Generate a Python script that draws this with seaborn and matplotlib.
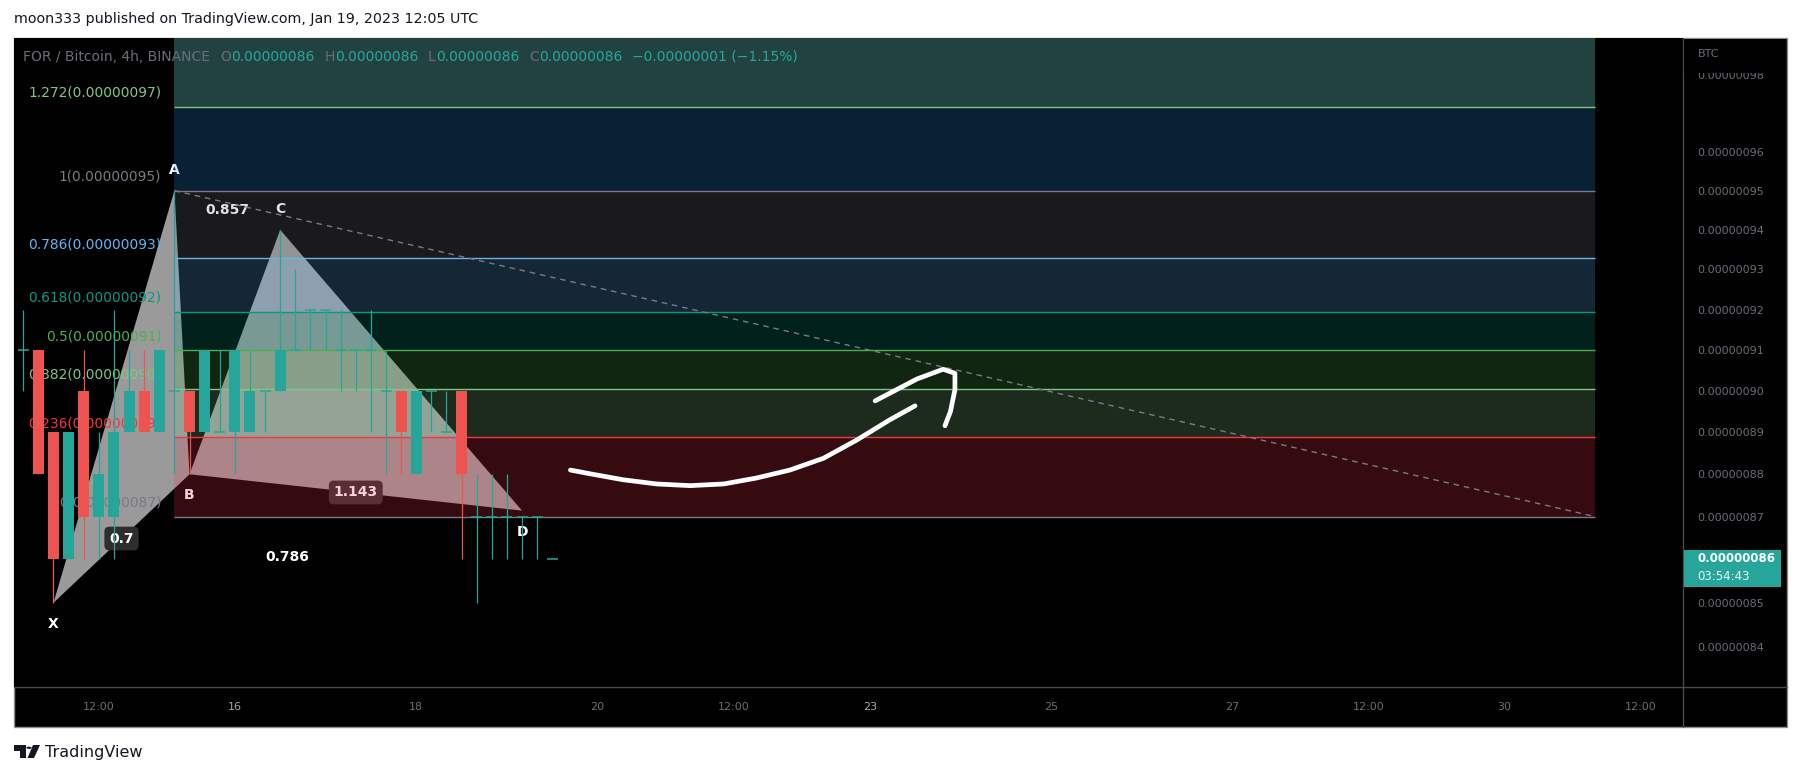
import numpy as np
import pandas as pd
import matplotlib.pyplot as plt
import matplotlib.dates as mdates
from matplotlib.patches import Rectangle, Polygon, Circle
from matplotlib.lines import Line2D
from matplotlib.ticker import FixedLocator, FixedFormatter, NullLocator, NullFormatter
import seaborn as sns

# FOR/BTC 4h candles, prices in satoshi (1e-8 BTC)
candle_start = "2023-01-13 16:00"
opens = [91, 91, 89, 86, 90, 87, 87, 89, 90, 89, 90, 90, 89, 89, 89, 89, 90, 90,
         91, 92, 92, 91, 91, 91, 90, 90, 88, 90, 89, 90, 87, 87, 87, 87, 87, 86]
highs = [92, 91, 89, 89, 91, 89, 92, 91, 91, 91, 95, 90, 91, 91, 91, 91, 90, 94,
         93, 92, 92, 92, 91, 92, 91, 90, 90, 90, 90, 90, 88, 88, 88, 87, 87, 86]
lows = [90, 88, 85, 86, 86, 86, 86, 89, 89, 89, 88, 88, 89, 89, 88, 89, 89, 90,
        91, 91, 91, 90, 90, 89, 88, 88, 88, 89, 89, 86, 85, 86, 86, 86, 86, 86]
closes = [91, 88, 86, 89, 87, 88, 89, 90, 89, 91, 90, 89, 91, 89, 91, 90, 90, 91,
          91, 92, 92, 91, 91, 91, 90, 89, 90, 90, 89, 88, 87, 87, 87, 87, 87, 86]
countdown = "03:54:43"

# XABCD pattern
pattern_names = ["X", "A", "B", "C", "D"]
pattern_times = ["2023-01-14 00:00", "2023-01-15 08:00", "2023-01-15 12:00",
                 "2023-01-16 12:00", "2023-01-19 04:00"]
pattern_prices = [85, 95, 88, 94, 87.14]
ratio_texts = ["0.7", "0.857", "1.143", "0.786"]
ratio_legs = [(0, 2), (1, 3), (2, 4), (0, 4)]
ratio_boxed = [True, False, True, False]

# fib retracement from A to the end of the month
fib_times = ["2023-01-15 08:00", "2023-01-31 00:00"]
fib_prices = [95, 87]
fib_levels = [0, 0.236, 0.382, 0.5, 0.618, 0.786, 1, 1.272, 1.618]
fib_colors = ["#787b86", "#f23645", "#81c784", "#4caf50", "#089981",
              "#64b5f6", "#787b86", "#81c784", "#7df0f0"]
band_colors = ["#f23645", "#81c784", "#4caf50", "#089981", "#64b5f6",
               "#787b86", "#2b9bff", "#7df0f0"]
band_alpha = [0.22, 0.22, 0.22, 0.22, 0.22, 0.22, 0.21, 0.28]

# hand drawn arrow (day of January 2023, price)
arrow_days = [19.70, 19.92, 20.28, 20.65, 21.02, 21.39, 21.75, 22.12, 22.49, 22.86, 23.22, 23.50]
arrow_prices = [88.10, 88.01, 87.87, 87.77, 87.73, 87.77, 87.91, 88.10, 88.38, 88.82, 89.30, 89.64]
head_days = [23.06, 23.52, 23.81, 23.94, 23.94, 23.89, 23.83]
head_prices = [89.76, 90.29, 90.53, 90.43, 90.03, 89.50, 89.16]

# axes
price_ticks = [84, 85, 87, 88, 89, 90, 91, 92, 93, 94, 95, 96, 98]
tick_times = ["2023-01-14 12:00", "2023-01-16 00:00", "2023-01-18 00:00", "2023-01-20 00:00",
              "2023-01-21 12:00", "2023-01-23 00:00", "2023-01-25 00:00", "2023-01-27 00:00",
              "2023-01-28 12:00", "2023-01-30 00:00", "2023-01-31 12:00"]
tick_labels = ["12:00", "16", "18", "20", "12:00", "23", "25", "27", "12:00", "30", "12:00"]
tick_bright = ["16", "23"]
view_times = ["2023-01-13 13:33", "2023-01-31 23:14"]
view_prices = [83.09, 98.995]

UP = "#26a69a"
DOWN = "#ef5350"
DIM = "#6a6d78"


def run():
    sns.set_style("dark", {"axes.facecolor": "black", "figure.facecolor": "white"})
    plt.rcParams["font.family"] = ["DejaVu Sans"]

    W, H = 1801, 776

    def fx(px):
        return px / W

    def fy(py):
        return 1 - py / H

    fig = plt.figure(figsize=(W / 100, H / 100), dpi=100)

    # chart panel background + separators
    fig.add_artist(Rectangle((fx(14), fy(727)), fx(1787) - fx(14), fy(38) - fy(727),
                             transform=fig.transFigure, fc="black", ec="#8f8f8f",
                             lw=1, zorder=-5))
    fig.add_artist(Line2D([fx(14), fx(1787)], [fy(687), fy(687)],
                          transform=fig.transFigure, color="#4a4a4a", lw=1, zorder=3))
    fig.add_artist(Line2D([fx(1683), fx(1683)], [fy(38), fy(727)],
                          transform=fig.transFigure, color="#4a4a4a", lw=1, zorder=3))

    ax = fig.add_axes([fx(14), fy(687), fx(1683) - fx(14), fy(38) - fy(687)])
    ax.set_facecolor("black")
    ax.set_yscale("log")

    # candles
    times = pd.date_range(candle_start, periods=len(opens), freq="4h")
    x = mdates.date2num(times)
    o, h, l, c = (np.array(v, dtype=float) for v in (opens, highs, lows, closes))
    col = np.where(c >= o, UP, DOWN)
    body_w = 0.121
    ax.vlines(x, l, h, colors=col, lw=0.9, zorder=5)
    ax.bar(x, np.abs(c - o), bottom=np.minimum(o, c), width=body_w, color=col, lw=0, zorder=6)
    flat = c == o
    ax.hlines(o[flat], x[flat] - body_w / 2, x[flat] + body_w / 2, colors=col[flat],
              lw=1.1, zorder=6)

    # XABCD pattern (under the fib bands, so it gets tinted)
    ptx = mdates.date2num(pd.to_datetime(pattern_times))
    pp = np.array(pattern_prices, dtype=float)
    ax.fill(ptx[:3], pp[:3], color="#9a9a9a", lw=0, zorder=1)
    ax.fill(ptx[2:], pp[2:], color="#9a9a9a", lw=0, zorder=1)
    for i, name in enumerate(pattern_names):
        side = 1 if i % 2 else -1
        ax.annotate(name, xy=(ptx[i], pp[i]), xytext=(0, side * 21), textcoords="offset pixels",
                    ha="center", va="center", color="white", fontsize=10,
                    fontweight="bold", zorder=1.5, annotation_clip=False)
    for txt, (i, j), boxed in zip(ratio_texts, ratio_legs, ratio_boxed):
        bbox = dict(boxstyle="round,pad=0.35", fc="#2e2e2e", ec="none") if boxed else None
        ax.text((ptx[i] + ptx[j]) / 2, np.sqrt(pp[i] * pp[j]), txt, color="white",
                fontsize=10, fontweight="bold", ha="center", va="center",
                bbox=bbox, zorder=1.5)

    # fib retracement
    f0, f1 = mdates.date2num(pd.to_datetime(fib_times))
    lvl_prices = [fib_prices[1] + lv * (fib_prices[0] - fib_prices[1]) for lv in fib_levels]
    for k in range(len(fib_levels) - 1):
        ax.fill_between([f0, f1], lvl_prices[k], lvl_prices[k + 1], color=band_colors[k],
                        alpha=band_alpha[k], lw=0, zorder=2)
    for lv, p, clr in zip(fib_levels, lvl_prices, fib_colors):
        if p > view_prices[1]:
            continue
        ax.hlines(p, f0, f1, colors=clr, lw=1, zorder=3)
        ax.annotate(f"{lv:g}({p * 1e-8:.8f})", xy=(f0, p), xytext=(-13, 14),
                    textcoords="offset pixels", ha="right", va="center", color=clr,
                    fontsize=9.9, zorder=3.5, annotation_clip=False)
    ax.plot([f0, f1], fib_prices, color="#787b86", lw=1, ls=(0, (4, 3.5)), zorder=4)

    # brush arrow
    base = pd.Timestamp("2023-01-01")
    ax_days = mdates.date2num(base + pd.to_timedelta(np.array(arrow_days) - 1, unit="D"))
    hd_days = mdates.date2num(base + pd.to_timedelta(np.array(head_days) - 1, unit="D"))
    sns.lineplot(x=ax_days, y=arrow_prices, sort=False, estimator=None, color="white",
                 lw=3.4, solid_capstyle="round", solid_joinstyle="round", ax=ax, zorder=8)
    sns.lineplot(x=hd_days, y=head_prices, sort=False, estimator=None, color="white",
                 lw=3.4, solid_capstyle="round", solid_joinstyle="round", ax=ax, zorder=8)

    # scales
    ax.set_xlim(mdates.date2num(pd.to_datetime(view_times)))
    ax.set_ylim(view_prices)
    ax.set_xlabel("")
    ax.set_ylabel("")
    ax.grid(False)
    for s in ax.spines.values():
        s.set_visible(False)
    ax.yaxis.tick_right()
    ax.yaxis.set_major_locator(FixedLocator(price_ticks))
    ax.yaxis.set_major_formatter(FixedFormatter([f"{p * 1e-8:.8f}" for p in price_ticks]))
    ax.yaxis.set_minor_locator(NullLocator())
    ax.yaxis.set_minor_formatter(NullFormatter())
    ax.set_xticks(mdates.date2num(pd.to_datetime(tick_times)))
    ax.set_xticklabels(tick_labels)
    ax.tick_params(axis="y", length=0, pad=10, labelsize=8, labelcolor=DIM)
    ax.tick_params(axis="x", length=0, pad=10.5, labelsize=8, labelcolor=DIM)
    for lab in ax.get_xticklabels():
        if lab.get_text() in tick_bright:
            lab.set_color("#a3a6af")

    # currency tag, covers the top tick
    fig.add_artist(Rectangle((fx(1684), fy(73)), fx(1786) - fx(1684), fy(39) - fy(73),
                             transform=fig.transFigure, fc="black", ec="none", zorder=4))
    fig.text(fx(1698), fy(54), "BTC", fontsize=8, color=DIM, va="center", zorder=5)

    # last price tag
    y_last = ax.transData.transform((x[-1], closes[-1]))[1]
    fig.add_artist(Rectangle((fx(1684), (y_last - 28) / H), fx(1781) - fx(1684), 37 / H,
                             transform=fig.transFigure, fc=UP, ec="none", zorder=5))
    fig.text(fx(1697), (y_last + 0.5) / H, f"{closes[-1] * 1e-8:.8f}", fontsize=8.5,
             color="white", fontweight="bold", va="center", zorder=6)
    fig.text(fx(1697), (y_last - 17) / H, countdown, fontsize=8.5, color="#e8f5f3",
             va="center", zorder=6)

    # legend row
    chg = closes[-1] - closes[-2]
    pieces = [("FOR / Bitcoin, 4h, BINANCE", DIM, 0)]
    for letter, val in zip("OHLC", (opens[-1], highs[-1], lows[-1], closes[-1])):
        pieces += [(letter, DIM, 10), (f"{val * 1e-8:.8f}", UP, 0)]
    pieces.append((f"{chg * 1e-8:.8f} ({chg / closes[-2] * 100:.2f}%)".replace("-", "\u2212"), UP, 10))
    t = None
    for s, clr, gap in pieces:
        if t is None:
            t = ax.annotate(s, xy=(fx(23), fy(57)), xycoords="figure fraction", va="center",
                            color=clr, fontsize=10, zorder=9, annotation_clip=False)
        else:
            t = ax.annotate(s, xy=(1, 0), xycoords=t, xytext=(gap, 0),
                            textcoords="offset pixels", va="bottom", color=clr,
                            fontsize=10, zorder=9, annotation_clip=False)

    # page header / footer
    fig.text(fx(14), fy(19), "moon333 published on TradingView.com, Jan 19, 2023 12:05 UTC",
             fontsize=10.3, color="#131722", va="center")
    ink = "#131722"
    fig.add_artist(Rectangle((fx(14), fy(750.5)), fx(26) - fx(14), fy(745) - fy(750.5),
                             transform=fig.transFigure, fc=ink, ec="none"))
    fig.add_artist(Rectangle((fx(20), fy(758)), fx(26) - fx(20), fy(745) - fy(758),
                             transform=fig.transFigure, fc=ink, ec="none"))
    fig.add_artist(Circle((fx(29), fy(747.8)), 2.6 / W, transform=fig.transFigure,
                          fc=ink, ec="none"))
    fig.add_artist(Polygon([(fx(33), fy(745)), (fx(40), fy(745)), (fx(34), fy(758)),
                            (fx(27.5), fy(758))], closed=True, transform=fig.transFigure,
                           fc=ink, ec="none"))
    fig.text(fx(45), fy(752), "TradingView", fontsize=11.5, color=ink, va="center")

    fig.savefig("out.png", dpi=100, facecolor="white")


if __name__ == "__main__":
    run()
